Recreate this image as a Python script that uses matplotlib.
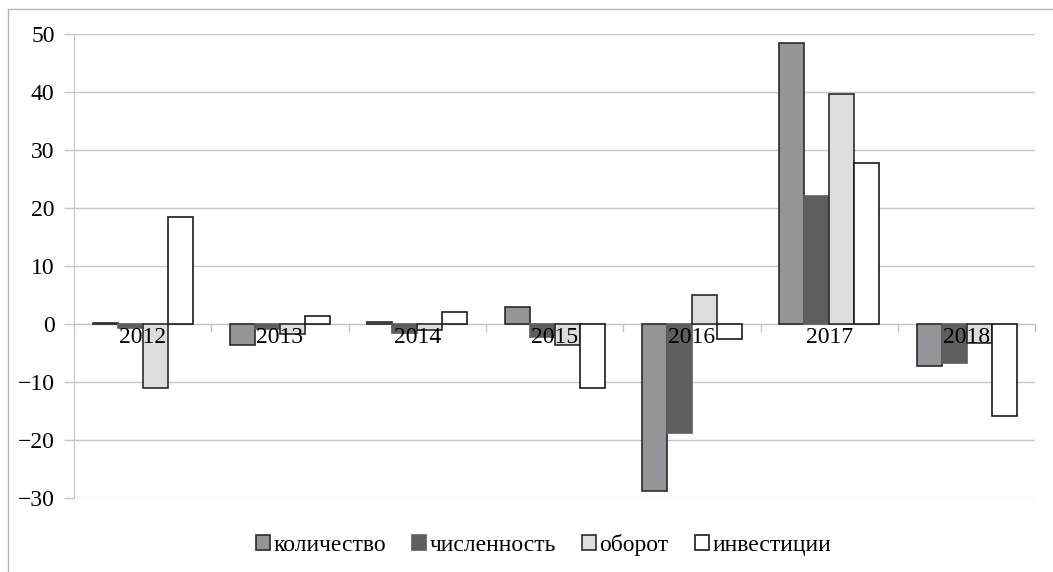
import numpy as np
import matplotlib
matplotlib.use('Agg')
import matplotlib.pyplot as plt
from matplotlib.lines import Line2D

plt.rcParams['font.family'] = ['Liberation Serif', 'DejaVu Serif']

years = ['2012', '2013', '2014', '2015', '2016', '2017', '2018']
series_names = ['количество', 'численность', 'оборот', 'инвестиции']
kolichestvo = [0.2, -3.6, 0.4, 3.0, -28.8, 48.5, -7.2]
chislennost = [-0.7, -0.9, -1.5, -2.2, -18.8, 22.0, -6.8]
oborot = [-11.0, -1.7, -1.0, -3.7, 5.0, 39.7, -3.3]
investicii = [18.5, 1.4, 2.1, -11.0, -2.6, 27.7, -15.8]

values = [kolichestvo, chislennost, oborot, investicii]
faces = ['#939598', '#5e5e60', '#dcdddf', '#ffffff']
edges = ['#2b2b2b', '#5e5e60', '#2b2b2b', '#1a1a1a']

fig = plt.figure(figsize=(10.53, 5.72), dpi=100)
ax = fig.add_axes([0.0703, 0.1294, 0.9130, 0.8112])

x = np.arange(len(years))
w = 0.182
for k in range(4):
    ax.bar(x + (k - 1.5) * w, values[k], width=w, color=faces[k],
           edgecolor=edges[k], linewidth=1.2, zorder=2, label=series_names[k])

ax.set_xlim(-0.5, len(years) - 0.5)
ax.set_ylim(-30, 50)
ax.set_yticks(np.arange(-30, 51, 10))
ax.set_yticklabels([str(v).replace('-', '\u2212') for v in range(-30, 51, 10)])
ax.yaxis.grid(True, color='#c6c6c6', linewidth=1)
ax.set_axisbelow(True)

for s in ['top', 'right']:
    ax.spines[s].set_visible(False)
ax.spines['left'].set_color('#c6c6c6')
ax.spines['bottom'].set_position(('data', 0))
ax.spines['bottom'].set_color('#c6c6c6')
ax.spines['bottom'].set_zorder(0.6)

ax.set_xticks(np.arange(-0.5, len(years), 1.0))
ax.set_xticklabels([])
ax.tick_params(axis='x', direction='out', length=6, color='#c6c6c6', width=1)
ax.tick_params(axis='y', direction='out', length=7, color='#c6c6c6', width=1,
               labelsize=17, pad=7)

for i, yr in enumerate(years):
    ax.annotate(yr, (i, 0), xytext=(0, -2), textcoords='offset points',
                ha='center', va='top', fontsize=17, zorder=5)

leg = fig.legend(loc='center', bbox_to_anchor=(0.516, 0.047), ncol=4,
                 frameon=False, fontsize=17, handlelength=0.6, handleheight=0.6,
                 handletextpad=0.15, columnspacing=1.1)

# only top and left edges of the outer frame
fig.add_artist(Line2D([0.008, 1.0], [0.984, 0.984], transform=fig.transFigure,
                      color='#b5b5b5', linewidth=1))
fig.add_artist(Line2D([0.008, 0.008], [0.0, 0.984], transform=fig.transFigure,
                      color='#b5b5b5', linewidth=1))

fig.savefig('out.png', dpi=100)
